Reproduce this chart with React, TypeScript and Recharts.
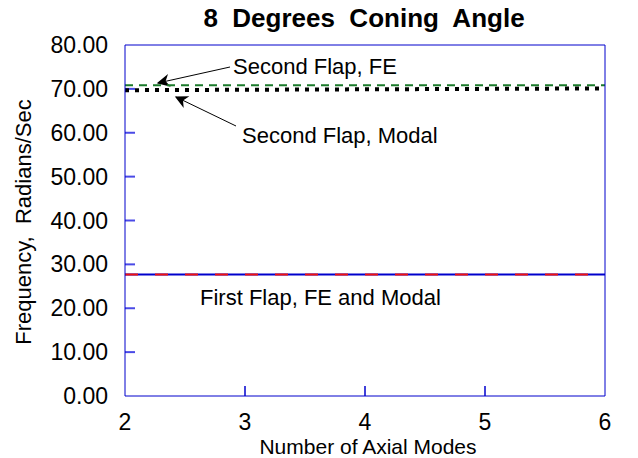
import { LineChart, Line, XAxis, YAxis, Customized } from "recharts";

const modes = [2, 3, 4, 5, 6];
const secondFlapFE = [70.85, 70.85, 70.85, 70.85, 70.85];
const secondFlapModal = [69.7, 69.8, 69.9, 70.0, 70.1];
const firstFlapFE = [27.7, 27.7, 27.7, 27.7, 27.7];
const firstFlapModal = [27.7, 27.7, 27.7, 27.7, 27.7];
const yTicks = [0, 10, 20, 30, 40, 50, 60, 70, 80];

const data = modes.map((m, i) => ({
  mode: m,
  secondFE: secondFlapFE[i],
  secondModal: secondFlapModal[i],
  firstFE: firstFlapFE[i],
  firstModal: firstFlapModal[i],
}));

const FONT = "'Liberation Sans', Arial, sans-serif";

// plot box: left 125, top 45, 480 x 351 px
const PLOT = { left: 125, top: 45, width: 480, height: 351 };

function XTick(props: any) {
  const { x, y, payload } = props;
  return (
    <text x={x} y={y + 34} textAnchor="middle" fontFamily={FONT} fontSize={23} fill="#000">
      {payload.value}
    </text>
  );
}

function YTick(props: any) {
  const { x, y, payload } = props;
  return (
    <text x={x - 17} y={y + 8} textAnchor="end" fontFamily={FONT} fontSize={23} fill="#000">
      {Number(payload.value).toFixed(2)}
    </text>
  );
}

// inward tick marks, 10px long
function TickMarks() {
  const bottom = PLOT.top + PLOT.height;
  return (
    <g>
      {yTicks.slice(1, -1).map((v) => {
        const y = bottom - (v / 80) * PLOT.height;
        return <path key={`y${v}`} d={`M${PLOT.left},${y}H${PLOT.left + 10}`} stroke="#4a4ae6" strokeWidth={2} fill="none" />;
      })}
      {modes.slice(1, -1).map((m) => {
        const x = PLOT.left + ((m - 2) / 4) * PLOT.width;
        return <path key={`x${m}`} d={`M${x},${bottom}V${bottom - 10}`} stroke="#0000cc" strokeWidth={1.5} fill="none" />;
      })}
    </g>
  );
}

// callout labels with arrows
function Annotations() {
  return (
    <g fontFamily={FONT} fontSize={22} fill="#000">
      <defs>
        <marker id="arr" viewBox="0 0 10 10" refX="9" refY="5" markerWidth="18" markerHeight="13" orient="auto" markerUnits="userSpaceOnUse">
          <path d="M0,0 L10,5 L0,10 L3,5 z" fill="#000" />
        </marker>
      </defs>
      <text x={233} y={74}>Second Flap, FE</text>
      <line x1={230} y1={67} x2={158} y2={83} stroke="#000" strokeWidth={1} markerEnd="url(#arr)" />
      <text x={242} y={143}>Second Flap, Modal</text>
      <line x1={236} y1={126} x2={176} y2={97} stroke="#000" strokeWidth={1} markerEnd="url(#arr)" />
      <text x={200} y={305}>First Flap, FE and Modal</text>
    </g>
  );
}

export default function App() {
  return (
    <div style={{ position: "absolute", left: 0, top: 0, width: 638, height: 458, background: "#fff" }}>
      <LineChart width={638} height={458} data={data} margin={{ top: 44, right: 32, bottom: 0, left: 45 }}>
        <XAxis
          dataKey="mode"
          type="number"
          domain={[2, 6]}
          ticks={modes}
          height={62}
          tickSize={0}
          tickMargin={0}
          axisLine={{ stroke: "#0000cc" }}
          tickLine={false}
          tick={<XTick />}
        />
        <YAxis
          type="number"
          domain={[0, 80]}
          ticks={yTicks}
          width={80}
          tickSize={0}
          tickMargin={0}
          axisLine={{ stroke: "#0000cc" }}
          tickLine={false}
          tick={<YTick />}
        />
        {/* top and right edges of the frame */}
        <XAxis
          xAxisId="top"
          orientation="top"
          dataKey="mode"
          type="number"
          domain={[2, 6]}
          height={1}
          axisLine={{ stroke: "#0000cc" }}
          tickLine={false}
          tick={false}
        />
        <YAxis
          yAxisId="right"
          orientation="right"
          type="number"
          domain={[0, 80]}
          width={1}
          axisLine={{ stroke: "#0000cc" }}
          tickLine={false}
          tick={false}
        />
        <Line dataKey="firstModal" stroke="#0000cc" strokeWidth={2} dot={false} isAnimationActive={false} />
        <Line dataKey="firstFE" stroke="#ee1111" strokeWidth={2} strokeDasharray="13 17" dot={false} isAnimationActive={false} />
        <Line dataKey="secondFE" stroke="#1a7a2a" strokeWidth={2} strokeDasharray="8 6" dot={false} isAnimationActive={false} />
        <Line dataKey="secondModal" stroke="#000" strokeWidth={4} strokeDasharray="4 6" dot={false} isAnimationActive={false} />
        <Customized component={TickMarks} />
        <Customized component={Annotations} />
        <text x={364} y={27} textAnchor="middle" fontFamily={FONT} fontSize={26} fontWeight="bold" fill="#000" style={{ whiteSpace: "pre" }}>
          {"8  Degrees  Coning  Angle"}
        </text>
        <text x={31} y={222} transform="rotate(-90 31 222)" textAnchor="middle" fontFamily={FONT} fontSize={22} fill="#000" style={{ whiteSpace: "pre" }}>
          {"Frequency,  Radians/Sec"}
        </text>
        <text x={368} y={454} textAnchor="middle" fontFamily={FONT} fontSize={21} fill="#000">
          Number of Axial Modes
        </text>
      </LineChart>
    </div>
  );
}
